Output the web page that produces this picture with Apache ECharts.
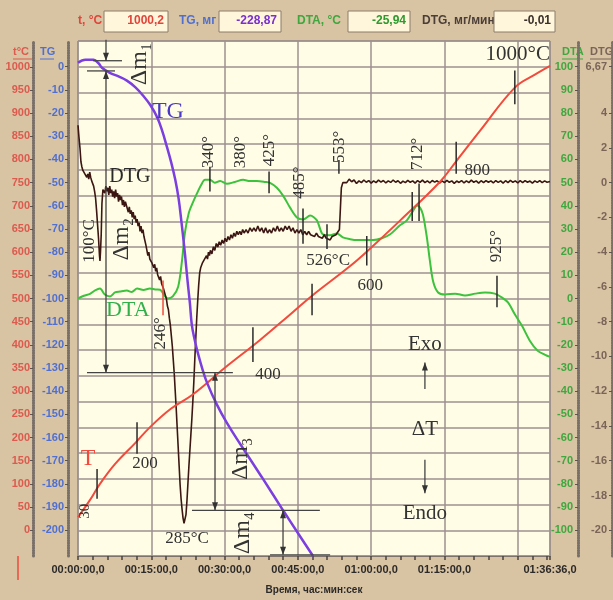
<!DOCTYPE html>
<html>
<head>
<meta charset="utf-8">
<script src="https://cdn.jsdelivr.net/npm/echarts@6/dist/echarts.min.js"></script>
<style>
html, body { margin: 0; padding: 0; background: #d8c3a3; }
#chart { width: 613px; height: 600px; }
</style>
</head>
<body>
<div id="chart"></div>
<script>
// --- data (x = minutes from start) ---
const timeLabels = [0, 15, 30, 45, 60, 75, 96.6];
const tLabels = [0, 50, 100, 150, 200, 250, 300, 350, 400, 450, 500, 550, 600, 650, 700, 750, 800, 850, 900, 950, 1000];
const tgLabels = [0, -10, -20, -30, -40, -50, -60, -70, -80, -90, -100, -110, -120, -130, -140, -150, -160, -170, -180, -190, -200];
const dtaLabels = [100, 90, 80, 70, 60, 50, 40, 30, 20, 10, 0, -10, -20, -30, -40, -50, -60, -70, -80, -90, -100];
const dtgLabels = [6.67, 4, 2, 0, -2, -4, -6, -8, -10, -12, -14, -16, -18, -20];

const headerReadout = [
  ['t, °C', '1000,2'],
  ['TG, мг', '-228,87'],
  ['DTA, °C', '-25,94'],
  ['DTG, мг/мин', '-0,01']
];

// temperature, °C
const tempData = [[0, 28], [2.5, 66], [4.5, 100], [7.6, 143], [11.7, 188], [14.7, 222], [19, 262], [23.5, 293],
  [30, 350], [37.2, 410], [43.9, 470], [47.9, 506], [55.7, 570], [59.2, 602], [65.9, 668], [74.1, 752],
  [77.4, 796], [82.3, 862], [89.4, 955], [93.5, 983], [96.6, 1002]];

// TG, mg
const tgData = [[0, 1.7], [1.5, 3], [3.2, 3], [4.2, 1.5], [4.9, -0.4], [6.5, -2.6], [8.3, -4.2], [10, -6],
  [11.7, -8.8], [13.3, -12.4], [14.8, -16.5], [16.2, -21.8], [17.2, -27.5], [18.2, -34.6], [19.1, -41.5],
  [19.9, -48.7], [20.6, -57], [21.2, -67.5], [21.6, -75], [21.9, -81], [22.4, -92], [22.9, -102],
  [23.3, -111.5], [23.9, -118], [24.4, -122.5], [25.4, -130], [26.4, -136.3], [28.4, -145.7],
  [30.5, -153.8], [33.2, -162.8], [37.6, -177], [42.0, -191.5], [45.1, -201.5], [48.1, -211.1]];

// DTA, °C
const dtaData = [[0, 0], [1.2, 1.2], [2.46, 2], [3.5, 3.5], [4.5, 4.3], [5.5, 1.7], [6.55, 0.9], [7.57, 2.6],
  [8.6, 3], [10, 3.4], [11, 2.8], [12.1, 4.3], [13.4, 3.7], [14.7, 4.3], [15.8, 3.9], [16.8, 3.8],
  [17.8, 0.9], [18.4, 0], [19.4, 0.9], [20.5, 5.1], [21.3, 16.6], [21.9, 28.6], [22.7, 37.1], [23.5, 41.4],
  [24.4, 45.6], [25.2, 49], [26, 51.2], [27, 51.2], [28, 49.9], [29.1, 50.7], [30.5, 49.5], [32.1, 50.3],
  [33.8, 51.2], [35.2, 50.7], [36.6, 50.7], [38.3, 50.3], [39.3, 49.9], [40.7, 47.8], [42, 44.3],
  [43.4, 39.2], [44.8, 35], [46.1, 34.1], [47.5, 35.8], [48.9, 33.7], [50.1, 27.7], [51.6, 27.3],
  [53, 28.1], [54.2, 26.4], [55.7, 25.6], [57.1, 25.2], [58.7, 25.2], [60.4, 25.2], [62.2, 26],
  [63.9, 27.7], [65.9, 31.6], [67.3, 33.7], [68.6, 37.9], [69.4, 40.1], [70, 39.2], [70.6, 36.2],
  [71.4, 26.4], [72, 16.6], [72.7, 7.2], [73.7, 2.6], [75.1, 1.7], [77.2, 2.1], [79.2, 1.3], [81.3, 2.1],
  [83.3, 2.6], [85.3, 2.1], [86.8, 0.4], [88, -1.7], [89.4, -6.8], [90.9, -11.9], [92.5, -18.3],
  [94.1, -22.6], [95.6, -24.3], [96.6, -25.2]];

// DTG, mg/min
const dtgData = [[0, 3.3], [0.2, 2.6], [0.4, 2.0], [0.6, 1.2], [0.8, 0.9], [1.0, 0.7], [1.2, 0.8], [1.4, 0.5],
  [1.6, 0.6], [1.8, 0.3], [2.0, 0.5], [2.2, 0.2], [2.4, 0.6], [2.6, 0.3], [2.8, 0.1], [3.0, 0.0], [3.2, -0.2],
  [3.4, -0.5], [3.6, -0.9], [3.8, -1.6], [4.0, -2.4], [4.2, -3.2], [4.4, -4.2], [4.5, -4.5], [4.6, -4.0],
  [4.75, -3.0], [4.9, -1.2], [5.1, -0.4], [5.3, -0.3], [5.5, -0.6], [5.7, -0.2], [5.9, -0.5], [6.1, -0.3],
  [6.3, -0.7], [6.5, -0.2], [6.7, -0.6], [6.9, -0.4], [7.1, -0.8], [7.3, -0.5], [7.5, -0.9], [7.7, -0.4],
  [7.9, -0.8], [8.1, -0.6], [8.3, -1.1], [8.5, -0.7], [8.7, -1.0], [8.9, -0.8], [9.1, -1.3], [9.3, -1.0],
  [9.5, -1.4], [9.7, -1.1], [9.9, -1.3], [10.1, -1.2], [10.3, -1.7], [10.5, -1.4], [10.7, -1.8], [10.9, -1.6],
  [11.1, -2.0], [11.3, -1.7], [11.5, -2.1], [11.7, -1.9], [11.9, -2.3], [12.1, -2.1], [12.3, -2.5],
  [12.5, -2.3], [12.7, -2.8], [12.9, -2.5], [13.1, -2.9], [13.3, -2.7], [13.5, -3.1], [13.7, -3.0],
  [13.9, -3.6], [14.1, -3.9], [14.3, -4.2], [14.5, -4.0], [14.7, -4.4], [14.9, -4.3], [15.1, -4.6],
  [15.3, -4.5], [15.5, -4.9], [15.7, -4.7], [15.9, -5.1], [16.1, -4.9], [16.3, -5.3], [16.5, -5.2],
  [16.7, -5.6], [16.9, -5.4], [17.1, -5.8], [17.3, -5.7], [17.5, -6.1], [17.7, -6.0], [17.9, -6.5],
  [18.1, -6.7], [18.3, -7.1], [18.5, -7.3], [18.7, -7.8], [18.9, -8.2], [19.1, -8.8], [19.3, -9.4],
  [19.5, -10.2], [19.7, -11.0], [19.9, -12.0], [20.1, -13.0], [20.3, -14.1], [20.5, -15.2], [20.7, -16.3],
  [20.9, -17.4], [21.1, -18.2], [21.3, -18.8], [21.5, -19.3], [21.7, -19.6], [21.9, -19.5], [22.1, -19.1],
  [22.3, -18.3], [22.5, -17.3], [22.7, -16.3], [22.9, -15.4], [23.1, -14.5], [23.3, -13.6], [23.5, -12.6],
  [23.7, -11.5], [23.9, -10.2], [24.1, -9.0], [24.3, -7.8], [24.5, -6.8], [24.7, -5.9], [24.9, -5.2],
  [25.1, -4.9], [25.3, -5.0], [25.5, -4.6], [25.7, -4.7], [25.9, -4.4], [26.1, -4.5], [26.3, -4.2],
  [26.5, -4.4], [26.7, -4.0], [26.9, -4.2], [27.1, -3.9], [27.4, -4.1], [27.7, -3.7], [28.0, -3.9],
  [28.3, -3.5], [28.6, -3.7], [28.9, -3.4], [29.2, -3.6], [29.5, -3.3], [29.8, -3.5], [30.1, -3.2],
  [30.4, -3.4], [30.7, -3.1], [31.0, -3.3], [31.3, -3.0], [31.6, -3.2], [31.9, -2.9], [32.2, -3.1],
  [32.5, -2.8], [32.8, -3.0], [33.1, -2.8], [33.4, -3.0], [33.7, -2.7], [34.0, -2.9], [34.4, -2.7],
  [34.8, -2.9], [35.2, -2.6], [35.6, -2.8], [36.0, -2.6], [36.4, -2.8], [36.8, -2.5], [37.2, -2.8],
  [37.6, -2.6], [38.0, -2.9], [38.4, -2.6], [38.8, -2.9], [39.2, -2.7], [39.6, -2.9], [40.0, -2.6],
  [40.4, -2.8], [40.8, -2.5], [41.2, -2.8], [41.6, -2.6], [42.0, -2.8], [42.4, -2.5], [42.8, -2.7],
  [43.2, -2.5], [43.6, -2.8], [44.0, -2.6], [44.4, -2.9], [44.8, -2.7], [45.2, -2.9], [45.6, -2.7],
  [46.0, -3.0], [46.4, -2.8], [46.8, -3.0], [47.2, -2.8], [47.6, -3.0], [48.0, -2.9], [48.4, -3.1],
  [48.8, -2.9], [49.2, -3.1], [49.6, -3.0], [50.0, -3.2], [50.4, -3.0], [50.8, -3.2], [51.2, -3.1],
  [51.6, -3.3], [52.0, -3.1], [52.4, -3.2], [52.8, -3.0], [53.2, -2.9], [53.5, -2.7], [53.7, -1.5],
  [53.9, -0.3], [54.2, 0.0], [54.6, 0.1], [55.0, 0.0], [55.5, 0.2], [56.0, 0.05], [56.5, 0.15], [57.0, -0.05],
  [57.5, 0.1], [58.0, 0.0], [58.5, 0.15], [59.0, 0.02], [59.5, 0.12], [60.0, -0.03], [60.5, 0.1], [61.0, 0.0],
  [61.5, 0.14], [62.0, 0.03], [62.5, 0.12], [63.0, -0.02], [63.5, 0.1], [64.0, 0.01], [64.5, 0.15],
  [65.0, 0.02], [65.5, 0.11], [66.0, -0.04], [66.5, 0.09], [67.0, 0.0], [67.5, 0.13], [68.0, 0.02],
  [68.5, 0.1], [69.0, -0.03], [69.5, 0.12], [70.0, 0.01], [70.5, 0.14], [71.0, 0.0], [71.5, 0.1],
  [72.0, -0.02], [72.5, 0.12], [73.0, 0.03], [73.5, 0.11], [74.0, -0.03], [74.5, 0.1], [75.0, 0.0],
  [75.5, 0.13], [76.0, 0.02], [76.5, 0.1], [77.0, -0.04], [77.5, 0.09], [78.0, 0.01], [78.5, 0.12],
  [79.0, -0.02], [79.5, 0.1], [80.0, 0.0], [80.5, 0.14], [81.0, 0.02], [81.5, 0.1], [82.0, -0.03],
  [82.5, 0.11], [83.0, 0.0], [83.5, 0.12], [84.0, 0.02], [84.5, 0.1], [85.0, -0.02], [85.5, 0.12],
  [86.0, 0.01], [86.5, 0.1], [87.0, -0.03], [87.5, 0.11], [88.0, 0.0], [88.5, 0.13], [89.0, 0.02],
  [89.5, 0.1], [90.0, -0.02], [90.5, 0.11], [91.0, 0.0], [91.5, 0.12], [92.0, 0.02], [92.5, 0.09],
  [93.0, -0.03], [93.5, 0.1], [94.0, 0.01], [94.5, 0.12], [95.0, 0.0], [95.5, 0.1], [96.0, 0.02], [96.6, 0.06]];

// annotation texts: [minute, t°C, text, vertical?, kind]
const noteTexts = [
  [12.7, 1006, 'Δm₁', 1, 'dm'],
  [18.4, 902, 'TG', 0, 'tg'],
  [10.6, 763, 'DTG', 0, 'dtg'],
  [2.46, 624, '100°C', 1, 'deg'],
  [9.0, 628, 'Δm₂', 1, 'dm'],
  [10.2, 474, 'DTA', 0, 'dta'],
  [16.8, 425, '246°', 1, 'deg'],
  [26.8, 816, '340°', 1, 'deg'],
  [33.2, 816, '380°', 1, 'deg'],
  [39.3, 820, '425°', 1, 'deg'],
  [45.4, 750, '485°', 1, 'deg'],
  [53.6, 827, '553°', 1, 'deg'],
  [69.4, 812, '712°', 1, 'deg'],
  [85.75, 613, '925°', 1, 'deg'],
  [51.2, 581, '526°C', 0, 'deg'],
  [2.05, 154, 'T', 0, 't'],
  [13.7, 143, '200', 0, 'deg'],
  [38.9, 335, '400', 0, 'deg'],
  [59.8, 528, '600', 0, 'deg'],
  [81.7, 776, '800', 0, 'deg'],
  [90.0, 1026, '1000°C', 0, 'big'],
  [1.43, 41, '30', 1, 'small'],
  [22.3, -17, '285°C', 0, 'deg'],
  [33.2, 154, 'Δm₃', 1, 'dm'],
  [33.8, -6, 'Δm₄', 1, 'dm'],
  [71, 400, 'Exo', 0, 'big'],
  [71, 218, 'ΔT', 0, 'big'],
  [71, 36, 'Endo', 0, 'big']
];

// short marker strokes: [minute, t from, t to, red?]
const markerTicks = [
  [12.08, 233, 165, 0], [35.8, 438, 363, 0], [59.1, 635, 571, 0], [77.4, 838, 769, 0],
  [89.4, 992, 919, 0], [27.0, 784, 731, 0], [39.1, 774, 727, 0], [46.05, 694, 618, 0],
  [53.4, 799, 769, 0], [50.96, 660, 607, 0], [69.8, 748, 667, 0], [68.4, 730, 667, 0],
  [85.75, 549, 481, 0], [17.4, 539, 464, 1], [3.9, 132, 68, 0], [47.9, 532, 464, 0]
];

// dimension lines: [m1, t1, m2, t2, arrow at start, arrow at end]
const dimLines = [
  [3.07, 1013, 9.0, 1013, 0, 0], [1.84, 991, 7.57, 991, 0, 0],
  [5.73, 1058, 5.73, 1013, 0, 1], [5.73, 930, 5.73, 991, 0, 1], [5.73, 930, 5.73, 340, 0, 1],
  [1.84, 340, 31.7, 340, 0, 0],
  [28.04, 340, 28.04, 43, 1, 1], [23.33, 43, 49.5, 43, 0, 0],
  [41.96, 43, 41.96, -53, 1, 1], [39.3, -53, 51.6, -53, 0, 0],
  [71, 305, 71, 362, 0, 1], [71, 152, 71, 80, 0, 1]
];

const pad = n => String(n).padStart(2, '0');
function fmtTime(v) {
  const s = Math.round(v * 60);
  return pad(Math.floor(s / 3600)) + ':' + pad(Math.floor(s / 60) % 60) + ':' + pad(s % 60) + ',0';
}

const chart = echarts.init(document.getElementById('chart'));
const dotted = { show: true, onZero: false, lineStyle: { color: '#7a706a', width: 3, type: [1, 1.5] } };
const labelFont = { fontFamily: 'Liberation Sans', fontWeight: 'bold', fontSize: 11 };
const plain = v => String(v).replace('.', ',');

const option = {
  backgroundColor: '#d8c3a3',
  animation: false,
  grid: {
    left: 78, right: 63, top: 41, bottom: 37,
    show: true, backgroundColor: '#fffde6', borderColor: '#7d726c', borderWidth: 1
  },
  xAxis: [
    {
      type: 'value', min: 0, max: 96.6, interval: 15, position: 'bottom',
      axisLine: { show: true, onZero: false, lineStyle: { color: '#7d726c' } },
      axisTick: { show: false },
      splitLine: { show: true, lineStyle: { color: '#9d9090', width: 1.5 } },
      axisLabel: Object.assign({ customValues: timeLabels, color: '#2c2a28', margin: 8, formatter: fmtTime }, labelFont),
      name: 'Время, час:мин:сек', nameLocation: 'middle', nameGap: 29,
      nameTextStyle: { fontFamily: 'Liberation Sans', fontWeight: 'bold', fontSize: 10, color: '#2c2a28' }
    },
    {
      type: 'value', min: 0, max: 96.6, position: 'bottom',
      axisLine: { show: false, onZero: false },
      axisTick: { show: true, length: 4, customValues: Array.from({ length: 33 }, (_, i) => i * 3).concat([96.6]), lineStyle: { color: '#4a4440', width: 1.5 } },
      axisLabel: { show: false }, splitLine: { show: false }
    }
  ],
  yAxis: [
    {
      type: 'value', position: 'left', offset: 45, min: -55.556, max: 1055.556,
      axisLine: dotted, splitLine: { show: false },
      axisTick: { show: true, length: 3, customValues: tLabels, lineStyle: { color: '#5e5550' } },
      axisLabel: Object.assign({ customValues: tLabels, color: '#dd5a4e', margin: 3, formatter: plain }, labelFont)
    },
    {
      type: 'value', position: 'left', offset: 10, min: -211.111, max: 11.111,
      axisLine: dotted, splitLine: { show: false },
      axisTick: { show: true, length: 3, customValues: tgLabels, lineStyle: { color: '#5e5550' } },
      axisLabel: Object.assign({ customValues: tgLabels, color: '#4f70d2', margin: 4, formatter: plain }, labelFont)
    },
    {
      type: 'value', position: 'right', offset: 28, min: -111.111, max: 111.111,
      axisLine: dotted, splitLine: { show: false },
      axisTick: { show: true, inside: true, length: 3, customValues: dtaLabels, lineStyle: { color: '#5e5550' } },
      axisLabel: Object.assign({ customValues: dtaLabels, inside: true, color: '#3ea83e', margin: 5, formatter: plain }, labelFont)
    },
    {
      type: 'value', position: 'right', offset: 62, min: -21.482, max: 8.148,
      axisLine: dotted, splitLine: { show: false },
      axisTick: { show: true, inside: true, length: 3, customValues: dtgLabels, lineStyle: { color: '#5e5550' } },
      axisLabel: Object.assign({ customValues: dtgLabels, inside: true, color: '#7a6458', margin: 5, formatter: plain }, labelFont)
    },
    {
      type: 'value', min: 0, max: 20, interval: 1, position: 'left',
      axisLine: { show: false, onZero: false }, axisTick: { show: false }, axisLabel: { show: false },
      splitLine: { show: true, lineStyle: { color: '#9d9090', width: 1.5 } }
    }
  ],
  series: [
    { name: 'DTA', type: 'line', xAxisIndex: 0, yAxisIndex: 2, data: dtaData, showSymbol: false, smooth: 0.3,
      lineStyle: { color: '#3cc23c', width: 2 } },
    { name: 'DTG', type: 'line', xAxisIndex: 0, yAxisIndex: 3, data: dtgData, showSymbol: false,
      lineStyle: { color: '#3b1612', width: 1.6 } },
    { name: 'T', type: 'line', xAxisIndex: 0, yAxisIndex: 0, data: tempData, showSymbol: false, smooth: 0.4,
      lineStyle: { color: '#f24a3c', width: 2 } },
    { name: 'TG', type: 'line', xAxisIndex: 0, yAxisIndex: 1, data: tgData, showSymbol: false, smooth: 0.4,
      lineStyle: { color: '#7b3fe0', width: 2.5 } }
  ]
};
chart.setOption(option);

// --- annotations, placed through the axes ---
const px = (m, t) => chart.convertToPixel({ xAxisIndex: 0, yAxisIndex: 0 }, [m, t]);
const noteStyle = {
  dm: { size: 24, color: '#333' }, tg: { size: 24, color: '#4a38c8' }, dtg: { size: 20, color: '#2a2a2a' },
  dta: { size: 22, color: '#2fb04a' }, deg: { size: 17, color: '#333' }, t: { size: 24, color: '#f24a3c' },
  big: { size: 21, color: '#333' }, small: { size: 15, color: '#333' }
};
const g = [];
noteTexts.forEach(([m, t, text, vert, kind]) => {
  const [x, y] = px(m, t);
  const st = noteStyle[kind];
  g.push({
    type: 'text', x, y, rotation: vert ? Math.PI / 2 : 0, z: 100,
    style: { text, fill: st.color, font: st.size + 'px "Liberation Serif", "DejaVu Serif", serif',
      textAlign: 'center', align: 'center', textVerticalAlign: 'middle', verticalAlign: 'middle' }
  });
});
markerTicks.forEach(([m, t1, t2, red]) => {
  const [x1, y1] = px(m, t1), [x2, y2] = px(m, t2);
  g.push({ type: 'line', z: 100, shape: { x1, y1, x2, y2 }, style: { stroke: red ? '#f24a3c' : '#2a2a2a', lineWidth: 1.5 } });
});
function arrowHead(tip, from) {
  const dx = tip[0] - from[0], dy = tip[1] - from[1], len = Math.hypot(dx, dy) || 1;
  const ux = dx / len, uy = dy / len, L = 8, W = 3;
  const bx = tip[0] - ux * L, by = tip[1] - uy * L;
  return { type: 'polygon', z: 100, shape: { points: [tip, [bx - uy * W, by + ux * W], [bx + uy * W, by - ux * W]] }, style: { fill: '#333' } };
}
dimLines.forEach(([m1, t1, m2, t2, a1, a2]) => {
  const p1 = px(m1, t1), p2 = px(m2, t2);
  g.push({ type: 'line', z: 100, shape: { x1: p1[0], y1: p1[1], x2: p2[0], y2: p2[1] }, style: { stroke: '#444', lineWidth: 1.3 } });
  if (a1) g.push(arrowHead(p1, p2));
  if (a2) g.push(arrowHead(p2, p1));
});

// header readout boxes
const headerPos = [[78, 104, 168], [179, 219, 281], [297, 348, 410], [422, 494, 555]];
const headerColors = [['#e0453a', '#e0453a'], ['#4f70d2', '#7a2fd0'], ['#3ea83e', '#2e9a2e'], ['#4a3e36', '#3a302a']];
headerReadout.forEach(([name, val], i) => {
  const [lx, bx1, bx2] = headerPos[i];
  g.push({ type: 'text', x: lx, y: 21, style: { text: name, fill: headerColors[i][0], font: 'bold 12px "Liberation Sans"', textVerticalAlign: 'middle', verticalAlign: 'middle' } });
  g.push({ type: 'rect', shape: { x: bx1, y: 11, width: bx2 - bx1, height: 21 }, style: { fill: '#fff6dc', stroke: '#8c7c6c', lineWidth: 1 } });
  g.push({ type: 'text', x: bx2 - 4, y: 21, style: { text: val, fill: headerColors[i][1], font: 'bold 12px "Liberation Sans"', textAlign: 'right', align: 'right', textVerticalAlign: 'middle', verticalAlign: 'middle' } });
});

// axis titles, underlined
[[13, 't°C', '#dd5a4e'], [40, 'TG', '#4f70d2'], [562, 'DTA', '#3ea83e'], [590, 'DTG', '#7a6458']].forEach(([x, text, color]) => {
  g.push({ type: 'text', x, y: 52, style: { text, fill: color, font: 'bold 11px "Liberation Sans"', textVerticalAlign: 'middle', verticalAlign: 'middle' } });
  g.push({ type: 'line', shape: { x1: x, y1: 59, x2: x + text.length * 7, y2: 59 }, style: { stroke: color, lineWidth: 1 } });
});
g.push({ type: 'line', shape: { x1: 18, y1: 556, x2: 18, y2: 580 }, style: { stroke: '#f04a3c', lineWidth: 1.5 } });

chart.setOption({ graphic: g });
</script>
</body>
</html>
